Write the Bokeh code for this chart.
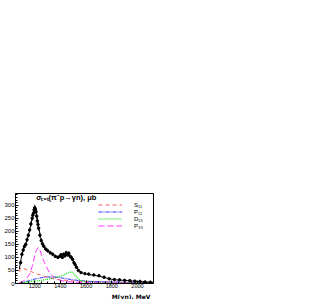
from bokeh.plotting import figure
from bokeh.embed import file_html
from bokeh.resources import INLINE
from bokeh.models import Label, Legend, LegendItem, FixedTicker, Range1d, Title
import numpy as np

# ---- data ----
E_fit = [1080, 1090, 1100, 1115, 1130, 1140, 1155, 1165, 1180, 1195, 1205, 1215, 1225, 1235, 1245,
         1260, 1275, 1295, 1315, 1340, 1360, 1380, 1400, 1420, 1440, 1460, 1475, 1490, 1505, 1520,
         1540, 1560, 1580, 1610, 1650, 1700, 1750, 1800, 1850, 1900, 1950, 2000, 2050, 2100, 2125]
sig_fit = [55, 85, 110, 140, 155, 165, 195, 214, 252, 280, 288, 262, 230, 205, 177,
           155, 138, 127, 120, 112, 106, 102, 102, 106, 112, 114, 108, 96, 84, 68,
           52, 43, 38, 35, 32, 28, 22, 16, 13, 12, 10, 8, 6, 5, 5]

E_S11 = [1080, 1090, 1100, 1115, 1140, 1165, 1190, 1220, 1250, 1280, 1320, 1350, 1400, 1450,
         1500, 1600, 1700, 1800, 1900, 2000, 2125]
sig_S11 = [45, 58, 60, 57, 52, 47, 42, 36, 32, 27, 22, 18, 14, 12, 10, 8, 6, 5, 4, 3, 3]

E_P11 = [1080, 1100, 1150, 1200, 1250, 1300, 1350, 1400, 1450, 1500, 1550, 1600, 1700, 1800,
         2000, 2125]
sig_P11 = [0, 3, 10, 17, 22, 25, 25, 22, 18, 14, 11, 9, 7, 6, 4, 3]

E_D13 = [1080, 1150, 1200, 1250, 1300, 1350, 1400, 1440, 1470, 1485, 1500, 1520, 1540, 1560,
         1600, 1700, 1800, 2125]
sig_D13 = [2, 6, 9, 12, 16, 22, 28, 36, 43, 45, 40, 28, 18, 11, 6, 3, 2, 1]

E_P33 = [1080, 1100, 1120, 1140, 1160, 1180, 1195, 1210, 1225, 1240, 1255, 1275, 1295, 1315,
         1335, 1360, 1400, 1450, 1500, 1600, 1800, 2125]
sig_P33 = [3, 6, 12, 22, 36, 65, 95, 125, 138, 128, 106, 80, 60, 42, 30, 20, 12, 7, 5, 3, 2, 1]

E_data = [1090, 1100, 1110, 1120, 1130, 1140, 1150, 1160, 1170, 1180, 1185, 1190, 1195, 1200,
          1205, 1210, 1215, 1220, 1225, 1230, 1240, 1250, 1260, 1270, 1285, 1300, 1320, 1340,
          1360, 1380, 1395, 1405, 1415, 1425, 1435, 1445, 1455, 1465, 1475, 1485, 1495, 1505,
          1515, 1525, 1540, 1560, 1590, 1620, 1660, 1700, 1740, 1780, 1820, 1860, 1900, 1940,
          1980, 2020, 2060, 2100]
sig_data = [80, 112, 128, 142, 150, 168, 185, 205, 228, 250, 262, 270, 282, 290,
            285, 275, 258, 240, 226, 212, 185, 165, 152, 143, 132, 126, 118, 112,
            104, 100, 104, 110, 100, 112, 106, 118, 110, 116, 104, 100, 92, 80,
            72, 62, 50, 42, 38, 36, 33, 30, 24, 18, 15, 14, 12, 11,
            9, 8, 6, 5]
err_data = [8, 8, 8, 8, 8, 9, 9, 10, 10, 10, 10, 11, 11, 12,
            12, 12, 11, 11, 10, 10, 9, 8, 8, 7, 7, 7, 7, 7,
            6, 6, 6, 7, 6, 7, 6, 7, 6, 7, 6, 6, 6, 5,
            5, 5, 4, 4, 4, 4, 4, 4, 3, 3, 3, 3, 3, 3,
            3, 3, 2, 2]

FONT = "Liberation Sans"

p = figure(width=332, height=299, output_backend="svg", toolbar_location=None,
           x_range=Range1d(1050, 2125), y_range=Range1d(0, 345),
           min_border_left=15, min_border_right=179, min_border_top=193, min_border_bottom=2)
p.grid.visible = False
p.background_fill_color = "white"
p.border_fill_color = "white"
p.outline_line_color = "black"
p.outline_line_width = 1

for ax in (p.xaxis[0], p.yaxis[0]):
    ax.major_tick_in = 3
    ax.major_tick_out = 0
    ax.minor_tick_in = 2
    ax.minor_tick_out = 0
    ax.major_label_text_font = FONT
    ax.major_label_text_color = "black"
    ax.axis_line_color = "black"
p.xaxis.major_label_text_font_size = "5.5px"
p.xaxis.major_label_standoff = 0
p.yaxis.major_label_text_font_size = "6px"
p.yaxis.major_label_standoff = 1
p.xaxis.ticker = FixedTicker(ticks=[1200, 1400, 1600, 1800, 2000],
                             minor_ticks=list(range(1100, 2125, 50)))
p.yaxis.ticker = FixedTicker(ticks=[0, 50, 100, 150, 200, 250, 300],
                             minor_ticks=list(range(0, 345, 10)))

# partial waves
r_s11 = p.line(E_S11, sig_S11, line_color="#ff6060", line_width=1, line_dash="4 3")
r_p11 = p.line(E_P11, sig_P11, line_color="#3333ff", line_width=1, line_dash="4 1 1 1")
r_d13 = p.line(E_D13, sig_D13, line_color="#00e000", line_width=1.2, line_dash="1 1")
r_p33 = p.line(E_P33, sig_P33, line_color="#ff33ff", line_width=1, line_dash="6 3")

# fit
p.line(E_fit, sig_fit, line_color="black", line_width=1)

# data with errors
lo = [s - e for s, e in zip(sig_data, err_data)]
hi = [s + e for s, e in zip(sig_data, err_data)]
p.segment(x0=E_data, y0=lo, x1=E_data, y1=hi, line_color="black", line_width=0.8)
p.scatter(E_data, sig_data, size=2.5, color="black")

legend = Legend(items=[LegendItem(label="S₁₁", renderers=[r_s11]),
                       LegendItem(label="P₁₁", renderers=[r_p11]),
                       LegendItem(label="D₁₃", renderers=[r_d13]),
                       LegendItem(label="P₃₃", renderers=[r_p33])],
                location=(83, 54), background_fill_alpha=0, border_line_alpha=0,
                padding=0, margin=0, spacing=0, glyph_width=24, glyph_height=7,
                label_height=7, label_standoff=12, label_text_font=FONT,
                label_text_color="black",
                label_text_font_size="6px", label_text_line_height=1.0)
p.add_layout(legend)

p.add_layout(Label(x=1212, y=329, text="σₜₒₜ(π⁻p→γn), μb", text_font=FONT,
                   text_color="black",
                   text_font_size="7.5px", text_font_style="bold", text_baseline="middle"))
p.add_layout(Title(text="M(γn), MeV", align="right", text_font="DejaVu Sans",
                   text_color="black", text_font_size="6px", text_font_style="bold",
                   standoff=0, offset=3), "below")

open("out.html", "w").write(file_html(p, INLINE))
